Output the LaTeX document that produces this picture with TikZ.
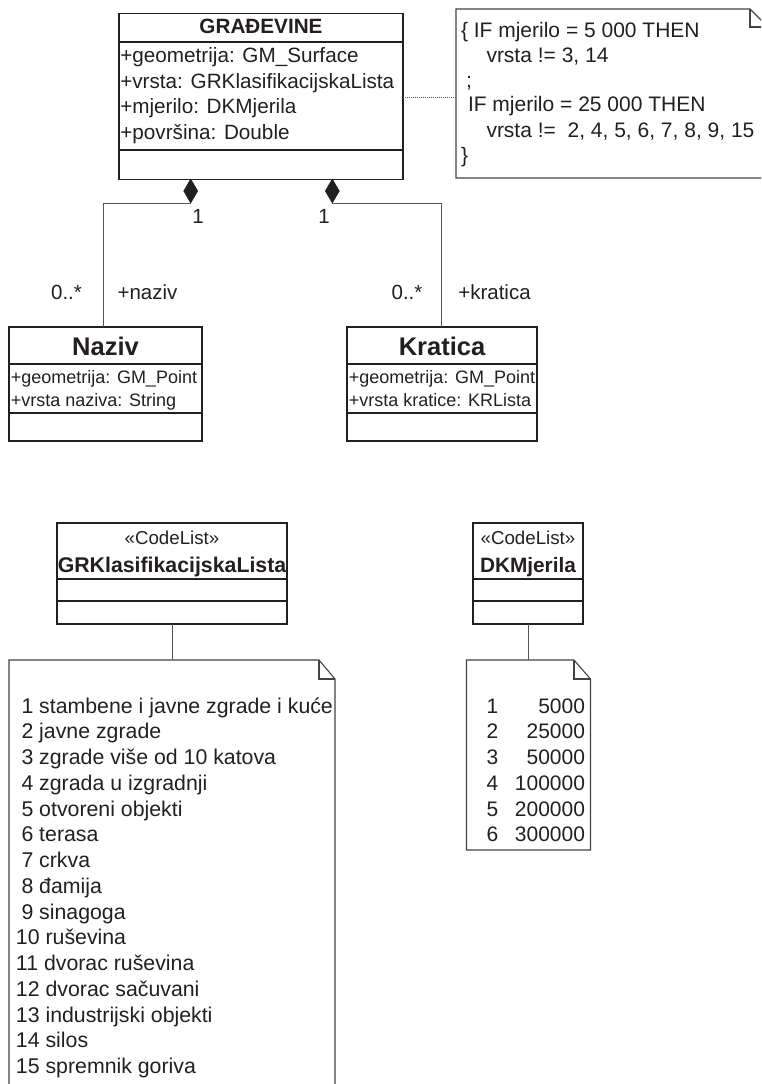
\documentclass[tikz,border=0pt]{standalone}
\usepackage{fontspec}
\setmainfont{Liberation Sans}
\usetikzlibrary{shapes.geometric,calc}
\definecolor{ink}{HTML}{231F20}
\definecolor{wirec}{HTML}{555555}
\newcommand{\setfs}[1]{\fontsize{#1}{#1}\selectfont}
\begin{document}
\begin{tikzpicture}[x=1pt,y=-1pt,
  umlbox/.style={draw=ink, line width=1.3pt, anchor=north west, inner sep=0pt, outer sep=0pt},
  sepline/.style={draw=ink, line width=1.3pt},
  wire/.style={draw=wirec, line width=1pt},
  dotlink/.style={draw=wirec, line width=1pt, dash pattern=on 1pt off 1pt},
  notebox/.style={anchor=north west, inner sep=0pt, outer sep=0pt, draw=none},
  noteline/.style={draw=ink!85, line width=1.1pt, line join=miter},
  txt/.style={inner sep=0pt, outer sep=0pt, anchor=base west, text=ink},
  ctxt/.style={inner sep=0pt, outer sep=0pt, anchor=base, text=ink},
  etxt/.style={inner sep=0pt, outer sep=0pt, anchor=base east, text=ink},
  dia/.style={diamond, fill=ink, draw=ink, line width=0.5pt, minimum width=14pt, minimum height=24pt, inner sep=0pt, outer sep=0pt},
  attrA/.style={txt, font=\setfs{20.7}},
  attrB/.style={txt, font=\setfs{18}},
  notefont/.style={txt, font=\setfs{21}},
  listfont/.style={txt, font=\setfs{21.3}},
  lbl/.style={ctxt, font=\setfs{20.5}}
]
\useasboundingbox (0,0) rectangle (761,1084);
\clip (0,0) rectangle (761,1084);

% ---------- GRADEVINE ----------
\node[umlbox, minimum width=284pt, minimum height=166pt] (grad) at (119,13.5) {};
\draw[sepline] ($(grad.north west)+(0,28.5)$) -- ($(grad.north east)+(0,28.5)$);
\draw[sepline] ($(grad.north west)+(0,136.5)$) -- ($(grad.north east)+(0,136.5)$);
\node[ctxt, font=\bfseries\setfs{20.7}] (gradT) at (261,33.5) {GRAĐEVINE};
\node[attrA] (ga1) at (120.3,62.5) {+geometrija: GM\_Surface};
\node[attrA] (ga2) at (120.3,88) {+vrsta: GRKlasifikacijskaLista};
\node[attrA] (ga3) at (120.3,113.5) {+mjerilo: DKMjerila};
\node[attrA] (ga4) at (120.3,139) {+površina: Double};

% ---------- constraint note ----------
\node[notebox, minimum width=312pt, minimum height=169pt] (note1) at (456,9) {};
\draw[noteline] (note1.north west) -- ($(note1.north east)+(-18,0)$) -- ($(note1.north east)+(0,18)$) -- (note1.south east) -- (note1.south west) -- cycle;
\draw[noteline] ($(note1.north east)+(-18,0)$) |- ($(note1.north east)+(0,18)$);
\node[notefont] (nt1) at (461,37) {\{ IF mjerilo = 5 000 THEN};
\node[notefont] (nt2) at (486.5,62) {vrsta != 3, 14};
\node[notefont] (nt3) at (466,87) {;};
\node[notefont] (nt4) at (468,111.5) {IF mjerilo = 25 000 THEN};
\node[notefont] (nt5) at (486.5,137) {vrsta !=\ \ 2, 4, 5, 6, 7, 8, 9, 15};
\node[notefont] (nt6) at (461,162) {\}};
\coordinate (dl) at (0,97);
\draw[dotlink] (grad.east |- dl) -- (note1.west |- dl);

% ---------- Naziv ----------
\node[umlbox, minimum width=193pt, minimum height=114pt] (naziv) at (9,327) {};
\draw[sepline] ($(naziv.north west)+(0,37)$) -- ($(naziv.north east)+(0,37)$);
\draw[sepline] ($(naziv.north west)+(0,86)$) -- ($(naziv.north east)+(0,86)$);
\node[ctxt, font=\bfseries\setfs{25.5}] (nazivT) at (105.5,355) {Naziv};
\node[attrB] (na1) at (10.8,383) {+geometrija: GM\_Point};
\node[attrB] (na2) at (10.8,406) {+vrsta naziva: String};

% ---------- Kratica ----------
\node[umlbox, minimum width=190pt, minimum height=114pt] (kratica) at (347,327) {};
\draw[sepline] ($(kratica.north west)+(0,37)$) -- ($(kratica.north east)+(0,37)$);
\draw[sepline] ($(kratica.north west)+(0,86)$) -- ($(kratica.north east)+(0,86)$);
\node[ctxt, font=\bfseries\setfs{25.5}] (kraticaT) at (442,355) {Kratica};
\node[attrB] (ka1) at (348.8,383) {+geometrija: GM\_Point};
\node[attrB] (ka2) at (348.8,406) {+vrsta kratice: KRLista};

% ---------- compositions ----------
\node[dia] (d1) at (190.7,191) {};
\node[dia] (d2) at (332.3,191) {};
\coordinate (c1) at (103.6,203);
\coordinate (c2) at (441,203);
\draw[wire] (d1.south) -- (c1) -- (c1 |- naziv.north);
\draw[wire] (d2.south) -- (c2) -- (c2 |- kratica.north);
\node[lbl] (m1) at (198,223) {1};
\node[lbl] (m2) at (324,223) {1};
\node[lbl] (m3) at (66.5,299) {0..*};
\node[lbl] (r1) at (147.5,299) {+naziv};
\node[lbl] (m4) at (407,299) {0..*};
\node[lbl] (r2) at (494.5,299) {+kratica};

% ---------- GRKlasifikacijskaLista ----------
\node[umlbox, minimum width=230pt, minimum height=101pt] (grk) at (57,523) {};
\draw[sepline] ($(grk.north west)+(0,56)$) -- ($(grk.north east)+(0,56)$);
\draw[sepline] ($(grk.north west)+(0,78)$) -- ($(grk.north east)+(0,78)$);
\node[ctxt, font=\setfs{18.7}] (grkS) at (172,544) {«CodeList»};
\node[ctxt, font=\bfseries\setfs{21.3}] (grkT) at (172,572) {GRKlasifikacijskaLista};

\node[notebox, minimum width=326pt, minimum height=440pt] (grknote) at (9,660) {};
\draw[noteline] (grknote.north west) -- ($(grknote.north east)+(-16,0)$) -- ($(grknote.north east)+(0,19)$) -- (grknote.south east) -- (grknote.south west) -- cycle;
\draw[noteline] ($(grknote.north east)+(-16,0)$) |- ($(grknote.north east)+(0,19)$);
\draw[wire] (grk.south) -- (grk.south |- grknote.north);

\foreach \t [count=\i] in {1 stambene i javne zgrade i kuće, 2 javne zgrade, 3 zgrade više od 10 katova, 4 zgrada u izgradnji, 5 otvoreni objekti, 6 terasa, 7 crkva, 8 đamija, 9 sinagoga}
  \node[listfont] (gl\i) at (21.5,{713+(\i-1)*25.75}) {\t};
\foreach \t [count=\j from 10] in {10 ruševina, 11 dvorac ruševina, 12 dvorac sačuvani, 13 industrijski objekti, 14 silos, 15 spremnik goriva}
  \node[listfont] (gl\j) at (16,{713+(\j-1)*25.75}) {\t};

% ---------- DKMjerila ----------
\node[umlbox, minimum width=110pt, minimum height=101pt] (dkm) at (473,523) {};
\draw[sepline] ($(dkm.north west)+(0,56)$) -- ($(dkm.north east)+(0,56)$);
\draw[sepline] ($(dkm.north west)+(0,78)$) -- ($(dkm.north east)+(0,78)$);
\node[ctxt, font=\setfs{18.7}] (dkmS) at (528,544) {«CodeList»};
\node[ctxt, font=\bfseries\setfs{20.8}] (dkmT) at (528,572) {DKMjerila};

\node[notebox, minimum width=124pt, minimum height=190pt] (dkmnote) at (466.5,660) {};
\draw[noteline] (dkmnote.north west) -- ($(dkmnote.north east)+(-16.5,0)$) -- ($(dkmnote.north east)+(0,19)$) -- (dkmnote.south east) -- (dkmnote.south west) -- cycle;
\draw[noteline] ($(dkmnote.north east)+(-16.5,0)$) |- ($(dkmnote.north east)+(0,19)$);
\draw[wire] (dkm.south) -- (dkm.south |- dkmnote.north);

\foreach \v [count=\i] in {5000, 25000, 50000, 100000, 200000, 300000} {
  \node[listfont, font=\setfs{21}] (dn\i) at (486.5,{713+(\i-1)*25.75}) {\i};
  \node[etxt, font=\setfs{21}] (dv\i) at (585,{713+(\i-1)*25.75}) {\v};
}
\end{tikzpicture}
\end{document}
